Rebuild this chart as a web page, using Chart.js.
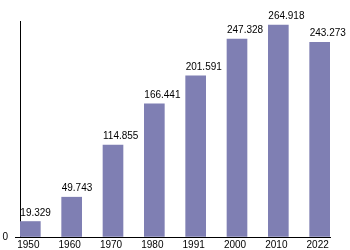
<!DOCTYPE html>
<html>
<head>
<meta charset="utf-8">
<script src="https://cdn.jsdelivr.net/npm/chart.js@4"></script>
<style>
  body { margin: 0; background: #fff; }
  canvas { display: block; }
</style>
</head>
<body>
<canvas id="chart" width="350" height="250"></canvas>
<script>
"use strict";

const years = ['1950', '1960', '1970', '1980', '1991', '2000', '2010', '2022'];
const population = [19.329, 49.743, 114.855, 166.441, 201.591, 247.328, 264.918, 243.273];
const valueLabels = ['19.329', '49.743', '114.855', '166.441', '201.591', '247.328', '264.918', '243.273'];

const FONT = '"Liberation Sans", Arial, sans-serif';

// 棒の上に値を左揃えで描く
const valueLabelPlugin = {
    id: 'valueLabels',
    afterDatasetsDraw(chart) {
        const ctx = chart.ctx;
        const meta = chart.getDatasetMeta(0);
        ctx.save();
        ctx.font = '10px ' + FONT;
        ctx.fillStyle = '#000';
        ctx.textAlign = 'left';
        ctx.textBaseline = 'alphabetic';
        meta.data.forEach((bar, i) => {
            ctx.fillText(valueLabels[i], bar.x - bar.width / 2, bar.y - 6);
        });
        ctx.restore();
    }
};

const ctx = document.getElementById('chart').getContext('2d');
const chart = new Chart(ctx, {
    type: 'bar',
    data: {
        datasets: [{
            data: population.map((v, i) => ({ x: i, y: v })),
            backgroundColor: '#7f7fb3',
            borderWidth: 0,
            barThickness: 20,
        }]
    },
    options: {
        responsive: false,
        animation: false,
        layout: { padding: { top: 21, right: 20, left: 0, bottom: 0 } },
        plugins: {
            legend: { display: false },
            tooltip: { enabled: false },
        },
        scales: {
            x: {
                type: 'linear',
                offset: false,
                min: -0.25,
                max: 7.25,
                afterBuildTicks: (scale) => {
                    scale.ticks = years.map((_, i) => ({ value: i }));
                },
                afterFit: (scale) => { scale.height = 13; },
                grid: { drawOnChartArea: false, drawTicks: false },
                border: { color: '#000', width: 1 },
                ticks: {
                    callback: (v) => years[v],
                    color: '#000',
                    font: { family: FONT, size: 10 },
                    padding: 2,
                    labelOffset: -2,
                    maxRotation: 0,
                    autoSkip: false,
                },
            },
            y: {
                min: 0,
                max: 270,
                afterBuildTicks: (scale) => { scale.ticks = [{ value: 0 }]; },
                afterFit: (scale) => { scale.width = 20; },
                grid: { drawOnChartArea: false, drawTicks: true, tickLength: 5, color: '#000' },
                border: { color: '#000', width: 1 },
                ticks: {
                    color: '#000',
                    font: { family: FONT, size: 10 },
                    padding: 7,
                },
            },
        },
    },
    plugins: [valueLabelPlugin],
});
</script>
</body>
</html>
